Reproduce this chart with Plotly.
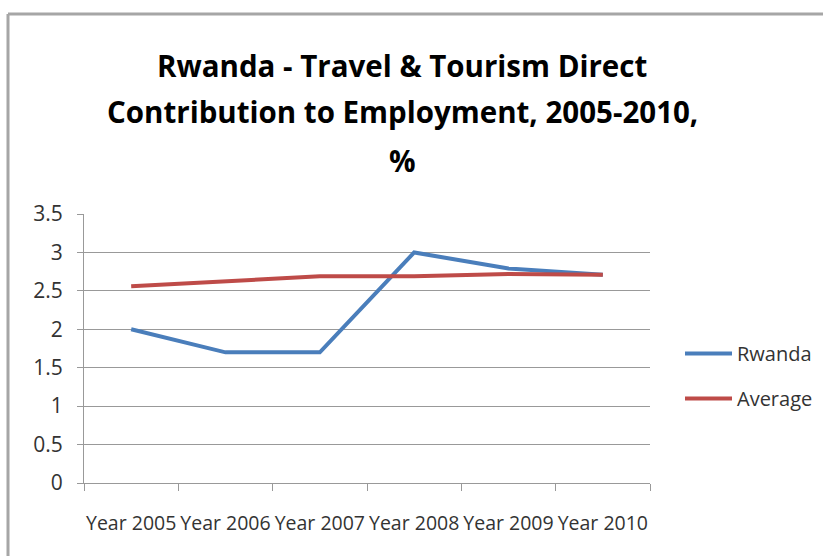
import plotly.graph_objects as go

# Chart data
years = ["Year 2005", "Year 2006", "Year 2007", "Year 2008", "Year 2009", "Year 2010"]
rwanda = [2.0, 1.7, 1.7, 3.0, 2.79, 2.71]
average = [2.56, 2.63, 2.69, 2.69, 2.72, 2.71]
series_names = ["Rwanda", "Average"]
title_lines = ["Rwanda - Travel & Tourism Direct", "Contribution to Employment, 2005-2010,", "%"]

FONT = "Open Sans, sans-serif"
W, H = 823, 556
L, R, T, B = 84, 173, 214, 73
pw, ph = W - L - R, H - T - B

fig = go.Figure()
fig.add_trace(go.Scatter(x=years, y=rwanda, mode="lines", name=series_names[0],
                         line=dict(color="#4A7EBB", width=4), legendgroup="a"))
fig.add_trace(go.Scatter(x=years, y=average, mode="lines", name=series_names[1],
                         line=dict(color="#BE4B48", width=4), legendgroup="b"))

def px_to_paper_x(px):
    return (px - L) / pw

def px_to_paper_y(py):
    return (H - B - py) / ph

# Outer frame (top and left edges)
frame_color = "#a6a6a6"
fig.add_shape(type="line", xref="paper", yref="paper",
              x0=px_to_paper_x(8), x1=px_to_paper_x(W + 5),
              y0=px_to_paper_y(14), y1=px_to_paper_y(14),
              line=dict(color=frame_color, width=3))
fig.add_shape(type="line", xref="paper", yref="paper",
              x0=px_to_paper_x(8), x1=px_to_paper_x(8),
              y0=px_to_paper_y(14), y1=px_to_paper_y(H + 5),
              line=dict(color=frame_color, width=3))

# Three-line chart title
for line_text, cy in zip(title_lines, [65, 112, 160]):
    fig.add_annotation(text=line_text, xref="paper", yref="paper",
                       x=px_to_paper_x(402), y=px_to_paper_y(cy),
                       xanchor="center", yanchor="middle", showarrow=False,
                       font=dict(family=FONT, size=29.5, color="black", weight="bold"))

fig.update_layout(
    width=W, height=H,
    margin=dict(l=L, r=R, t=T, b=B, autoexpand=False),
    paper_bgcolor="white", plot_bgcolor="white",
    showlegend=True,
    legend=dict(x=px_to_paper_x(680), xanchor="left", y=px_to_paper_y(376), yanchor="middle",
                font=dict(family=FONT, size=20, color="#333333"), itemwidth=47,
                traceorder="grouped", tracegroupgap=16, bgcolor="rgba(0,0,0,0)"),
    font=dict(family=FONT, size=20, color="#333333"),
)

fig.update_xaxes(
    type="category", range=[-0.5, 5.5], automargin=False, tickangle=0,
    showline=True, linecolor="#999999", linewidth=1,
    ticks="outside", tickson="boundaries", ticklen=7, tickcolor="#999999",
    showgrid=False, ticklabelstandoff=23,
    tickfont=dict(family=FONT, size=19.5, color="#333333"),
)
fig.update_yaxes(
    range=[0, 3.5], dtick=0.5, tick0=0, automargin=False,
    showline=True, linecolor="#999999", linewidth=1,
    showgrid=True, gridcolor="#999999", gridwidth=1,
    ticks="outside", ticklen=6, tickcolor="#999999",
    zeroline=False, ticklabelstandoff=10,
    tickfont=dict(family=FONT, size=21, color="#333333"),
)

fig.write_html("out.html")
